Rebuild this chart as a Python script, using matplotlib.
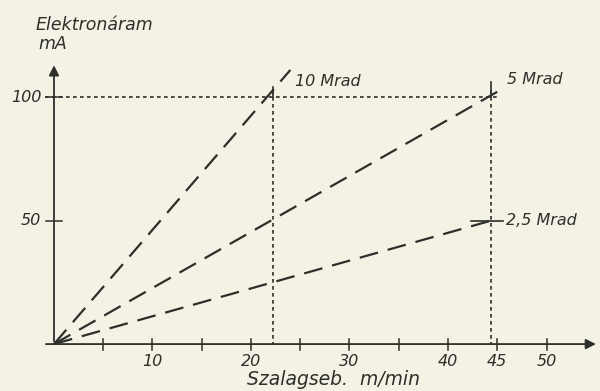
import matplotlib.pyplot as plt

# Elektronáram vs. szalagsebesség, három dózisra
doses = ['10 Mrad', '5 Mrad', '2,5 Mrad']
line_x = [[0, 24.0], [0, 45.6], [0, 44.4]]
line_y = [[0, 111], [0, 103.5], [0, 50]]
label_x = [24.5, 46.0, 45.9]
label_y = [106.5, 107.0, 50.0]

# segédvonalak (pontozott)
guide_speed = [22.2, 44.4]
guide_current = 100

x_ticks = [5, 10, 15, 20, 25, 30, 35, 40, 45, 50]
x_labels = ['10', '20', '30', '40', '45', '50']
x_label_pos = [10, 20, 30, 40, 45, 50]
y_ticks = [50, 100]
y_labels = ['50', '100']

ink = '#2e2e2b'
bg = '#f3f2e4'

fig = plt.figure(figsize=(6, 3.91), dpi=100, facecolor=bg)
ax = fig.add_axes([0, 0, 1, 1])
ax.set_facecolor(bg)
ax.set_xlim(-5.48, 55.43)
ax.set_ylim(-19.0, 139.3)
ax.axis('off')

# tengelyek
ax.annotate('', xy=(55.3, 0), xytext=(-1.1, 0),
            arrowprops=dict(arrowstyle='-|>', color=ink, lw=1.3, mutation_scale=15))
ax.annotate('', xy=(0, 114), xytext=(0, 0),
            arrowprops=dict(arrowstyle='-|>', color=ink, lw=1.3, mutation_scale=15))

for t in x_ticks:
    ax.plot([t, t], [-2.2, 2.2], color=ink, lw=1.1)
for t, lab in zip(x_label_pos, x_labels):
    ax.text(t, -7.2, lab, ha='center', va='center', fontsize=11.5,
            style='italic', color=ink)
for t, lab in zip(y_ticks, y_labels):
    ax.plot([-0.8, 0.8], [t, t], color=ink, lw=1.1)
    ax.text(-1.3, t, lab, ha='right', va='center', fontsize=11.5,
            style='italic', color=ink)

# pontozott segédvonalak
ax.plot([-0.9, 45.3], [guide_current, guide_current], color=ink, lw=1.2,
        linestyle=(0, (2.2, 2.0)))
for g in guide_speed:
    ax.plot([g, g], [guide_current + 3, 0], color=ink, lw=1.2,
            linestyle=(0, (2.2, 2.0)))

# szaggatott egyenesek
for xs, ys in zip(line_x, line_y):
    ax.plot(xs, ys, color=ink, lw=1.6, linestyle=(0, (8.5, 4.5)))

for lab, lx, ly in zip(doses, label_x, label_y):
    ax.text(lx, ly, lab, ha='left', va='center', fontsize=11.5,
            style='italic', color=ink)

# keresztjelek a metszéspontokban
ax.plot([44.4, 44.4], [100, 106], color=ink, lw=1.2)
ax.plot([42.3, 45.6], [50, 50], color=ink, lw=1.2)
ax.plot([22.2, 22.2], [100, 104], color=ink, lw=1.2)

ax.text(-1.9, 129, 'Elektronáram', ha='left', va='center', fontsize=12.5,
        style='italic', color=ink)
ax.text(-1.6, 121.5, 'mA', ha='left', va='center', fontsize=12.5,
        style='italic', color=ink)
ax.text(19.6, -14.3, 'Szalagseb.  m/min', ha='left', va='center', fontsize=13.5,
        style='italic', color=ink)

fig.savefig('out.png', dpi=100, facecolor=bg)
